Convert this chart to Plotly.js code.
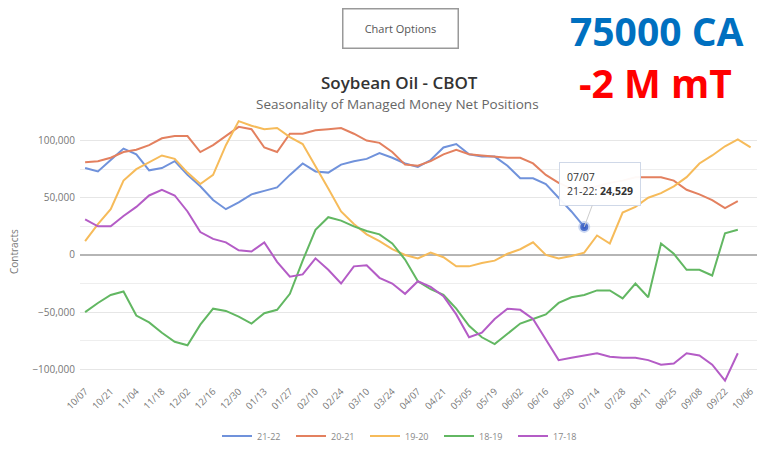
<!DOCTYPE html>
<html>
<head>
<meta charset="utf-8">
<script src="https://cdn.plot.ly/plotly-3.0.1.min.js"></script>
<style>
  html, body { margin: 0; padding: 0; background: #ffffff; }
  #chart { width: 760px; height: 454px; }
</style>
</head>
<body>
<div id="chart"></div>
<script>
// Weekly categories (MM/DD)
const weekLabels = ["10/07","10/14","10/21","10/28","11/04","11/11","11/18","11/25","12/02","12/09",
  "12/16","12/23","12/30","01/06","01/13","01/20","01/27","02/03","02/10","02/17",
  "02/24","03/03","03/10","03/17","03/24","03/31","04/07","04/14","04/21","04/28",
  "05/05","05/12","05/19","05/26","06/02","06/09","06/16","06/23","06/30","07/07",
  "07/14","07/21","07/28","08/04","08/11","08/18","08/25","09/01","09/08","09/15",
  "09/22","09/29","10/06"];

// Tick labels shown on the x axis (every second week)
const xTickLabels = ["10/07","10/21","11/04","11/18","12/02","12/16","12/30","01/13","01/27","02/10",
  "02/24","03/10","03/24","04/07","04/21","05/05","05/19","06/02","06/16","06/30",
  "07/14","07/28","08/11","08/25","09/08","09/22","10/06"];

const seriesNames = ["21-22", "20-21", "19-20", "18-19", "17-18"];

// Managed money net positions (contracts)
const s2122 = [76000,73000,83000,93000,88000,74000,76000,82000,70000,60000,
  48000,40000,46000,53000,56000,59000,70000,80000,73000,72000,
  79000,82000,84000,89000,85000,80000,77000,83000,94000,97000,
  88000,86000,86000,78000,67000,67000,62000,50000,38000,24529];

const s2021 = [81000,82000,85000,90000,92000,96000,102000,104000,104000,90000,
  96000,104000,112000,110000,94000,90000,106000,106000,109000,110000,
  111000,106000,100000,98000,90000,79000,78000,82000,88000,92000,
  88000,87000,86000,85000,85000,80000,70000,63000,58000,57000,
  60000,63000,65000,68000,68000,68000,65000,57000,53000,48000,
  41000,47000];

const s1920 = [12000,27000,40000,65000,75000,81000,87000,84000,72000,62000,
  70000,96000,117000,113000,110000,111000,103000,97000,78000,58000,
  38000,27000,18000,12000,5000,0,-3000,2000,-2000,-10000,
  -10000,-7000,-5000,1000,5000,11000,0,-3000,-1000,2000,
  17000,10000,37000,42000,50000,54000,60000,68000,80000,87000,
  95000,101000,94000];

const s1819 = [-50000,-42000,-35000,-32000,-53000,-59000,-68000,-76000,-79000,-61000,
  -47000,-49000,-54000,-60000,-51000,-48000,-34000,-5000,22000,33000,
  30000,25000,21000,18000,10000,-4000,-23000,-30000,-35000,-47000,
  -62000,-72000,-78000,-69000,-60000,-56000,-52000,-42000,-37000,-35000,
  -31000,-31000,-38000,-25000,-37000,10000,1000,-13000,-13000,-18000,
  19000,22000];

const s1718 = [31000,25000,25000,34000,42000,52000,57000,52000,38000,20000,
  14000,11000,4000,3000,11000,-6000,-19000,-17000,-3000,-13000,
  -25000,-10000,-9000,-20000,-25000,-34000,-23000,-28000,-36000,-52000,
  -72000,-68000,-56000,-47000,-48000,-56000,-74000,-92000,-90000,-88000,
  -86000,-89000,-90000,-90000,-92000,-96000,-95000,-86000,-88000,-96000,
  -110000,-86000];

const hoverIndex = 39; // tooltip shown on 21-22 at 07/07

const seriesData = [s2122, s2021, s1920, s1819, s1718];
const colors = ["#7092db", "#e3805f", "#f6bb5a", "#62b762", "#b45cc6"];

const traces = seriesData.map((vals, k) => ({
  type: "scatter",
  mode: "lines",
  name: seriesNames[k],
  x: weekLabels.slice(0, vals.length),
  y: vals,
  line: { color: colors[k], width: 2 },
  hoverinfo: "skip"
}));

// hovered point marker
traces.push({
  type: "scatter",
  mode: "markers",
  x: [weekLabels[hoverIndex]],
  y: [s2122[hoverIndex]],
  marker: { color: "#3b5fc4", size: 8, line: { color: "rgba(109,143,217,0.35)", width: 4 } },
  showlegend: false,
  hoverinfo: "skip"
});

const PL = 80, PR = 3, PT = 112, PB = 71, W = 760, H = 454;
const pw = W - PL - PR, ph = H - PT - PB;
const px = (x) => (x - PL) / pw;
const py = (y) => (H - PB - y) / ph;

const layout = {
  width: W, height: H,
  margin: { l: PL, r: PR, t: PT, b: PB },
  paper_bgcolor: "#ffffff",
  plot_bgcolor: "#ffffff",
  font: { family: "Open Sans, Arial, sans-serif", color: "#666" },
  showlegend: true,
  legend: {
    orientation: "h",
    x: px(402), xanchor: "center",
    y: py(436), yanchor: "middle",
    font: { size: 9, color: "#888" },
    entrywidth: 29,
    entrywidthmode: "pixels",
    bgcolor: "rgba(0,0,0,0)"
  },
  xaxis: {
    type: "category",
    range: [-0.4, 52.5],
    tickmode: "array",
    tickvals: xTickLabels,
    ticktext: xTickLabels,
    tickangle: -45,
    tickfont: { size: 9.5, color: "#777" },
    showgrid: false,
    zeroline: false,
    showline: false,
    ticks: "",
    fixedrange: true
  },
  yaxis: {
    range: [-112000, 125000],
    dtick: 50000,
    tick0: 0,
    tickformat: ",d",
    tickfont: { size: 10, color: "#777" },
    ticklabelstandoff: 4,
    gridcolor: "#e6e6e6",
    gridwidth: 1,
    minor: { dtick: 25000, showgrid: true, gridcolor: "#eeeeee", gridwidth: 1 },
    zeroline: true,
    zerolinecolor: "#b5b5b5",
    zerolinewidth: 2,
    showline: false,
    ticks: "",
    fixedrange: true
  },
  annotations: [
    {
      xref: "paper", yref: "paper",
      x: px(400), y: py(28), xanchor: "center", yanchor: "middle",
      text: "Chart Options",
      showarrow: false,
      font: { size: 11, color: "#555" },
      bordercolor: "#999", borderwidth: 1.5, borderpad: 1,
      width: 112, height: 36,
      bgcolor: "#ffffff"
    },
    {
      xref: "paper", yref: "paper",
      x: px(399), y: py(83), xanchor: "center", yanchor: "middle",
      text: "Soybean Oil - CBOT",
      showarrow: false,
      font: { size: 17, color: "#333", weight: 600 }
    },
    {
      xref: "paper", yref: "paper",
      x: px(397), y: py(104), xanchor: "center", yanchor: "middle",
      text: "Seasonality of Managed Money Net Positions",
      showarrow: false,
      font: { size: 13.5, color: "#666" }
    },
    {
      xref: "paper", yref: "paper",
      x: px(14), y: py(252), xanchor: "center", yanchor: "middle",
      text: "Contracts",
      textangle: -90,
      showarrow: false,
      font: { size: 10, color: "#777" }
    },
    {
      xref: "paper", yref: "paper",
      x: px(568), xanchor: "left",
      y: py(30), yanchor: "middle",
      text: "<b>75000 CA</b>",
      showarrow: false,
      font: { size: 39, color: "#0070c0", family: "Open Sans, Arial, sans-serif" }
    },
    {
      xref: "paper", yref: "paper",
      x: px(577), xanchor: "left",
      y: py(83), yanchor: "middle",
      text: "<b>-2 M mT</b>",
      showarrow: false,
      font: { size: 39, color: "#ff0000", family: "Open Sans, Arial, sans-serif" }
    },
    {
      x: weekLabels[hoverIndex], y: s2122[hoverIndex],
      xref: "x", yref: "y",
      text: weekLabels[hoverIndex] + "<br>" + seriesNames[0] + ": <b>" + s2122[hoverIndex].toLocaleString("en-US") + "</b>",
      align: "left",
      showarrow: true,
      arrowhead: 0,
      arrowwidth: 1,
      arrowcolor: "#cccccc",
      ax: 16, ay: -43,
      bgcolor: "rgba(255,255,255,0.95)",
      bordercolor: "#cfd8e8",
      borderwidth: 1,
      borderpad: 7,
      font: { size: 10.5, color: "#333" }
    }
  ]
};

Plotly.newPlot("chart", traces, layout, { displayModeBar: false, staticPlot: true });
</script>
</body>
</html>
